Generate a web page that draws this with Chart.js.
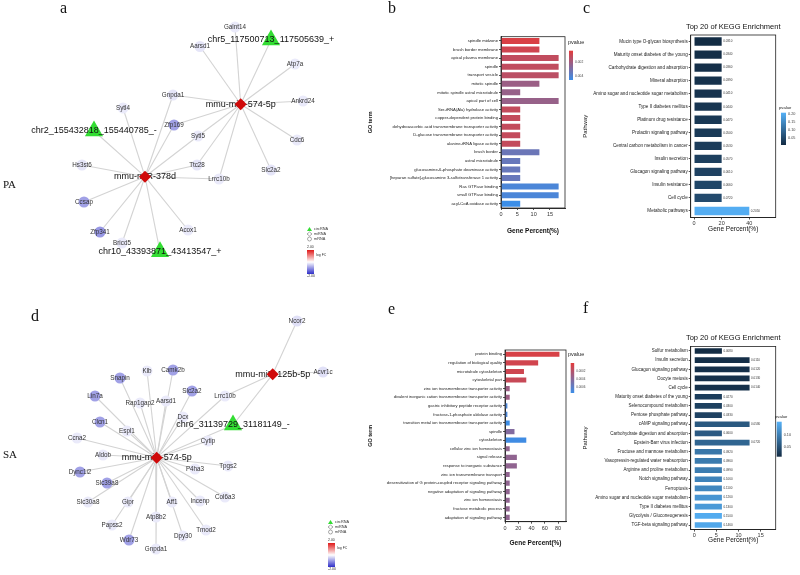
<!DOCTYPE html>
<html lang="en">
<head>
  <meta charset="UTF-8">
  <script src="https://cdn.jsdelivr.net/npm/chart.js"></script>
  <title>ceRNA networks and enrichment</title>
  <style>
    body{margin:0; width:800px; height:575px; background:#fff; position:relative; overflow:hidden;}
    canvas{position:absolute; display:block;}
    .tag{position:absolute; font-family:"Liberation Serif", serif; color:#111; line-height:1; z-index:5;}
  </style>
</head>
<body>
  <canvas id="netA" width="370" height="290" style="left:0;top:0"></canvas>
  <canvas id="netD" width="370" height="280" style="left:0;top:295px"></canvas>
  <canvas id="goB" width="230" height="205" style="left:362px;top:30px"></canvas>
  <canvas id="keggC" width="222" height="218" style="left:578px;top:15px"></canvas>
  <canvas id="goE" width="230" height="207" style="left:362px;top:340px"></canvas>
  <canvas id="keggF" width="222" height="219" style="left:578px;top:325px"></canvas>

  <div class="tag" style="left:60px;top:0;font-size:16px">a</div>
  <div class="tag" style="left:388px;top:0;font-size:16px">b</div>
  <div class="tag" style="left:583px;top:0;font-size:16px">c</div>
  <div class="tag" style="left:31px;top:308px;font-size:16px">d</div>
  <div class="tag" style="left:388px;top:301px;font-size:16px">e</div>
  <div class="tag" style="left:583px;top:300px;font-size:16px">f</div>
  <div class="tag" style="left:3px;top:179px;font-size:11px">PA</div>
  <div class="tag" style="left:3px;top:449px;font-size:11px">SA</div>

<script>
const FONT = '"Liberation Sans", Arial, sans-serif';

// ---------- panel a : network (layout position + log FC) ----------
const aNames = ['mmu-miR-574-5p','mmu-miR-378d','chr5_117500713_117505639_+','chr2_155432818_155440785_-','chr10_43393871_43413547_+',
  'Galnt14','Aarsd1','Atp7a','Ankrd24','Cdc6','Slc2a2','Gnpda1','Sytl4','Zfp169','Sytl5','Ttc28','Lrrc10b','Hs3st6','Ccsap','Zfp341','Acox1','Bricd5'];
const aKind = ['mi','mi','circ','circ','circ','m','m','m','m','m','m','m','m','m','m','m','m','m','m','m','m','m'];
const aX = [240.7,145,271,94,160,235,200,295,303,297,271,173,123,174,198,197,219,82,84,100,188,122];
const aY = [104.3,176.7,40,131,251.7,27,46.5,64,101,140,170,95,108,125,136,165,179,165,202,232,230,243];
const aFC = [2,2,0,0,0,-0.2,-0.25,-0.2,-0.2,-0.2,-0.25,-0.25,-0.2,-0.9,-0.2,-0.25,-0.2,-0.25,-0.9,-1,-0.2,-0.2];
const aEdges = [
  ['mmu-miR-574-5p',['Galnt14','chr5_117500713_117505639_+','Aarsd1','Atp7a','Ankrd24','Cdc6','Slc2a2','Lrrc10b','Ttc28','Sytl5','Zfp169','Gnpda1']],
  ['mmu-miR-378d',['chr2_155432818_155440785_-','Sytl4','Gnpda1','Zfp169','Sytl5','Ttc28','Lrrc10b','Hs3st6','Ccsap','Zfp341','Bricd5','chr10_43393871_43413547_+','Acox1']]
];

// ---------- panel d : network ----------
const dNames = ['mmu-miR-574-5p','mmu-miR-125b-5p','chr6_31139729_31181149_-','Klb','Camk2b','Snapin','Slc2a2','Lin7a','Rap1gap2','Aarsd1',
  'Lrrc10b','Dcx','Clcn1','Espl1','Cytip','Ccna2','Aldob','P4ha3','Tpgs2','Dync1i2','Slc39a8','Slc30a8','Gipr','Aff1','Incenp','Col6a3',
  'Atp8b2','Papss2','Dpy30','Tmod2','Wdr73','Gnpda1','Ncor2','Acvr1c'];
const dKind = ['mi','mi','circ'].concat(Array(31).fill('m'));
const dX = [156.7,272.7,233,147,173,120,192,95,140,166,225,183,100,127,208,77,103,195,228,80,107,88,128,172,200,225,156,112,183,206,129,156,297,323];
const dY = [457.7,374.3,425,371,370,378,391,396,403,401,396,417,422,431,441,438,455,469,466,472,483,502,502,502,501,497,517,525,536,530,540,549,321,372];
const dFC = [2,2,0,-0.2,-0.9,-0.9,-0.9,-0.9,-0.2,-0.2,-0.2,-0.2,-0.9,-0.2,-0.2,-0.2,-0.2,-0.2,-0.2,-0.9,-0.9,-0.2,-0.2,-0.2,-0.2,-0.2,-0.2,-0.2,-0.2,-0.2,-0.9,-0.2,-0.3,-0.3];
const dEdges = [
  ['mmu-miR-574-5p',['chr6_31139729_31181149_-','Klb','Camk2b','Snapin','Slc2a2','Lin7a','Rap1gap2','Aarsd1','Lrrc10b','Dcx','Clcn1','Espl1','Cytip',
    'Ccna2','Aldob','P4ha3','Tpgs2','Dync1i2','Slc39a8','Slc30a8','Gipr','Aff1','Incenp','Col6a3','Atp8b2','Papss2','Dpy30','Tmod2','Wdr73','Gnpda1']],
  ['mmu-miR-125b-5p',['Ncor2','Acvr1c','Lrrc10b','chr6_31139729_31181149_-']]
];

// ---------- panel b : GO (PA) ----------
const bTerms = ['spindle midzone','brush border membrane','apical plasma membrane','spindle','transport vesicle','mitotic spindle',
  'mitotic spindle astral microtubule','apical part of cell','Ser-tRNA(Ala) hydrolase activity','copper-dependent protein binding',
  'dehydroascorbic acid transmembrane transporter activity','D-glucose transmembrane transporter activity','alanine-tRNA ligase activity',
  'brush border','astral microtubule','glucosamine-6-phosphate deaminase activity','[heparan sulfate]-glucosamine 3-sulfotransferase 1 activity',
  'Ras GTPase binding','small GTPase binding','acyl-CoA oxidase activity'];
const bPercent = [11.76,11.76,17.65,17.65,17.65,11.76,5.88,17.65,5.88,5.88,5.88,5.88,5.88,11.76,5.88,5.88,5.88,17.65,17.65,5.88];
const bPval = [0.00065,0.0009,0.00124,0.00124,0.0014,0.0022,0.0023,0.0023,0.0012,0.0012,0.0012,0.0012,0.0012,0.0034,0.0035,0.0035,0.0035,0.0042,0.0042,0.0046];
const bTicks = [0,5,10,15];

// ---------- panel c : KEGG (PA) ----------
const cPaths = ['Mucin type O-glycan biosynthesis','Maturity onset diabetes of the young','Carbohydrate digestion and absorption','Mineral absorption',
  'Amino sugar and nucleotide sugar metabolism','Type II diabetes mellitus','Platinum drug resistance','Prolactin signaling pathway',
  'Central carbon metabolism in cancer','Insulin secretion','Glucagon signaling pathway','Insulin resistance','Cell cycle','Metabolic pathways'];
const cPercent = [20,20,20,20,20,20,20,20,20,20,20,20,20,40];
const cPval = [0.031,0.034,0.036,0.039,0.041,0.044,0.047,0.050,0.053,0.057,0.061,0.066,0.072,0.205];
const cTicks = [0,20,40];

// ---------- panel e : GO (SA) ----------
const eTerms = ['protein binding','regulation of biological quality','microtubule cytoskeleton','cytoskeletal part',
  'zinc ion transmembrane transporter activity','divalent inorganic cation transmembrane transporter activity',
  'gastric inhibitory peptide receptor activity','fructose-1-phosphate aldolase activity',
  'transition metal ion transmembrane transporter activity','spindle','cytoskeleton','cellular zinc ion homeostasis','signal release',
  'response to inorganic substance','zinc ion transmembrane transport','desensitization of G protein-coupled receptor signaling pathway',
  'negative adaptation of signaling pathway','zinc ion homeostasis','fructose metabolic process','adaptation of signaling pathway'];
const ePercent = [82.1,50,28.6,32.1,7.1,7.1,3.6,3.6,7.1,14.3,32.1,7.1,17.9,17.9,7.1,7.1,7.1,7.1,7.1,7.1];
const ePval = [0.00007,0.0001,0.00011,0.00014,0.00033,0.00033,0.00068,0.00068,0.00074,0.00044,0.00073,0.00038,0.00038,0.00038,0.00038,0.00038,0.00038,0.00038,0.00038,0.00038];
const eTicks = [0,20,40,60,80];

// ---------- panel f : KEGG (SA) ----------
const fPaths = ['Sulfur metabolism','Insulin secretion','Glucagon signaling pathway','Oocyte meiosis','Cell cycle',
  'Maturity onset diabetes of the young','Selenocompound metabolism','Pentose phosphate pathway','cAMP signaling pathway',
  'Carbohydrate digestion and absorption','Epstein-Barr virus infection','Fructose and mannose metabolism',
  'Vasopressin-regulated water reabsorption','Arginine and proline metabolism','Notch signaling pathway','Ferroptosis',
  'Amino sugar and nucleotide sugar metabolism','Type II diabetes mellitus','Glycolysis / Gluconeogenesis','TGF-beta signaling pathway'];
const fPercent = [6.25,12.5,12.5,12.5,12.5,6.25,6.25,6.25,12.5,6.25,12.5,6.25,6.25,6.25,6.25,6.25,6.25,6.25,6.25,6.25];
const fPval = [0.008,0.011,0.012,0.013,0.014,0.027,0.030,0.033,0.058,0.060,0.072,0.092,0.096,0.099,0.106,0.110,0.126,0.130,0.150,0.146];
const fTicks = [0,5,10,15];

// colour helpers
const GO_LO = '#e33b3b', GO_HI = '#3b8ee8';
const KG_LO = '#132b43', KG_HI = '#56b1f7';
function mix(c1, c2, t){
  const a = parseInt(c1.slice(1),16), b = parseInt(c2.slice(1),16);
  const ch = s => Math.round(((a>>s)&255)*(1-t) + ((b>>s)&255)*t);
  return 'rgb(' + ch(16) + ',' + ch(8) + ',' + ch(0) + ')';
}
function grad(p, lo, hi, c1, c2){
  return mix(c1, c2, Math.min(1, Math.max(0, (p-lo)/(hi-lo))));
}
function fcColor(v){
  return v >= 0 ? mix('#ffffff', '#d00a0a', Math.min(1, v/2)) : mix('#ffffff', '#2e2ec8', Math.min(1, -v/2));
}

// network labels + legend
const netDecor = {
  id:'netDecor',
  afterDatasetDraw(chart, args, o){
    if (args.index !== 1) return;
    const ctx = chart.ctx, sx = chart.scales.x, sy = chart.scales.y;
    ctx.save();
    ctx.textAlign = 'center'; ctx.textBaseline = 'middle';
    o.names.forEach((n, i) => {
      const big = o.kinds[i] !== 'm';
      ctx.font = (big ? '9px ' : '6.3px ') + FONT;
      ctx.fillStyle = big ? '#111' : '#333';
      ctx.fillText(n, sx.getPixelForValue(o.xs[i]), sy.getPixelForValue(o.ys[i]));
    });
    ctx.restore();
  },
  afterDraw(chart, args, o){
    const ctx = chart.ctx;
    const x = chart.scales.x.getPixelForValue(o.legend[0]);
    const y = chart.scales.y.getPixelForValue(o.legend[1]);
    ctx.save();
    ctx.font = '3.8px ' + FONT; ctx.fillStyle = '#333'; ctx.textBaseline = 'middle'; ctx.textAlign = 'left';
    // circRNA
    ctx.fillStyle = '#33dd33';
    ctx.beginPath(); ctx.moveTo(x+2.5, y+1); ctx.lineTo(x+5, y+5); ctx.lineTo(x, y+5); ctx.closePath(); ctx.fill();
    ctx.fillStyle = '#333'; ctx.fillText('circRNA', x+7, y+3);
    // miRNA
    ctx.strokeStyle = '#555'; ctx.lineWidth = 0.5;
    ctx.beginPath(); ctx.moveTo(x+2.5, y+6); ctx.lineTo(x+5, y+8); ctx.lineTo(x+2.5, y+10); ctx.lineTo(x, y+8); ctx.closePath(); ctx.stroke();
    ctx.fillText('miRNA', x+7, y+8);
    // mRNA
    ctx.beginPath(); ctx.arc(x+2.5, y+13, 2, 0, Math.PI*2); ctx.stroke();
    ctx.fillText('mRNA', x+7, y+13);
    // log FC bar
    ctx.font = '3.5px ' + FONT;
    ctx.fillText('2.00', x, y+21.5);
    const g = ctx.createLinearGradient(0, y+24, 0, y+48);
    g.addColorStop(0, '#e01818'); g.addColorStop(0.5, '#ffffff'); g.addColorStop(1, '#2e2ec8');
    ctx.fillStyle = g; ctx.fillRect(x, y+24, 7, 24);
    ctx.fillStyle = '#333';
    ctx.fillText('log FC', x+9, y+29);
    ctx.fillText('-2.00', x, y+50.5);
    ctx.restore();
  }
};

function network(id, names, kinds, xs, ys, fcs, hubs, xr, yr, legend){
  const mi = [], other = [];
  names.forEach((n, i) => (kinds[i] === 'mi' ? mi : other).push(i));
  const edges = [];
  hubs.forEach(([hub, targets]) => {
    const h = names.indexOf(hub);
    targets.forEach(t => {
      const j = names.indexOf(t);
      edges.push({data:[{x:xs[h], y:ys[h]}, {x:xs[j], y:ys[j]}], showLine:true,
        borderColor:'#d3d3d3', borderWidth:1.1, pointRadius:0});
    });
  });
  new Chart(document.getElementById(id), {
    type:'scatter',
    data:{datasets:[
      {data: mi.map(i => ({x:xs[i], y:ys[i]})), pointStyle:'rectRot', pointRadius:6,
        pointBackgroundColor: mi.map(i => fcColor(fcs[i])), pointBorderWidth:0},
      {data: other.map(i => ({x:xs[i], y:ys[i]})),
        pointStyle: other.map(i => kinds[i] === 'circ' ? 'triangle' : 'circle'),
        pointRadius: other.map(i => kinds[i] === 'circ' ? 10.5 : 5.5),
        pointBackgroundColor: other.map(i => kinds[i] === 'circ' ? '#33dd33' : fcColor(fcs[i])),
        pointBorderWidth:0}
    ].concat(edges)},
    options:{
      responsive:false, animation:false, events:[],
      layout:{padding:0, autoPadding:false},
      scales:{
        x:{type:'linear', display:false, min:xr[0], max:xr[1]},
        y:{type:'linear', display:false, min:yr[0], max:yr[1], reverse:true}
      },
      plugins:{legend:{display:false}, tooltip:{enabled:false},
        netDecor:{names:names, kinds:kinds, xs:xs, ys:ys, legend:legend}}
    },
    plugins:[netDecor]
  });
}

// frame, title, value text and colour bar of the bar panels
const barDecor = {
  id:'barDecor',
  afterDraw(chart, args, o){
    const ctx = chart.ctx, a = chart.chartArea;
    ctx.save();
    ctx.strokeStyle = '#222'; ctx.lineWidth = 0.8;
    ctx.strokeRect(a.left, a.top, a.right - a.left, a.bottom - a.top);
    if (o.title){
      ctx.font = '7.5px ' + FONT; ctx.fillStyle = '#111'; ctx.textAlign = 'center'; ctx.textBaseline = 'middle';
      ctx.fillText(o.title, (a.left + a.right)/2, a.top - 8);
    }
    if (o.values){
      ctx.font = '3px ' + FONT; ctx.fillStyle = '#333'; ctx.textAlign = 'left'; ctx.textBaseline = 'middle';
      chart.getDatasetMeta(0).data.forEach((bar, i) => ctx.fillText(o.values[i], bar.x + 1.5, bar.y));
    }
    const cb = o.cb;
    const g = ctx.createLinearGradient(0, cb.y, 0, cb.y + cb.h);
    g.addColorStop(0, cb.stops[0]); g.addColorStop(1, cb.stops[1]);
    ctx.fillStyle = g; ctx.fillRect(cb.x, cb.y, cb.w, cb.h);
    ctx.fillStyle = '#222'; ctx.textAlign = 'left'; ctx.textBaseline = 'middle';
    ctx.font = cb.tf + 'px ' + FONT; ctx.fillText('pvalue', cb.tx, cb.ty);
    ctx.font = cb.lf + 'px ' + FONT; ctx.fillStyle = '#444';
    cb.labels.forEach(l => ctx.fillText(l[0], cb.x + cb.w + 2, l[1]));
    ctx.restore();
  }
};

function barPanel(id, cats, vals, cols, o){
  new Chart(document.getElementById(id), {
    type:'bar',
    data:{labels:cats, datasets:[{data:vals, backgroundColor:cols, borderWidth:0,
      barPercentage:o.bar, categoryPercentage:1}]},
    options:{
      indexAxis:'y', responsive:false, animation:false, events:[],
      layout:{padding:{top:o.top, right:o.right, left:0, bottom:0}},
      plugins:{legend:{display:false}, tooltip:{enabled:false},
        barDecor:{title:o.title, values:o.values, cb:o.cb}},
      scales:{
        x:{min:o.min, max:o.max,
          afterBuildTicks: s => { s.ticks = o.ticks.map(v => ({value:v})); },
          afterFit: s => { s.height = o.xh; },
          grid:{drawOnChartArea:false, tickLength:2, color:'#555'}, border:{color:'#333'},
          ticks:{font:{size:5.5, family:FONT}, color:'#333', padding:1, maxRotation:0},
          title:{display:true, text:'Gene Percent(%)', color:'#111', padding:{top:0, bottom:0},
            font:{size:6.5, weight:o.bold ? 'bold' : 'normal', family:FONT}}},
        y:{afterFit: s => { s.width = o.yw; },
          grid:{drawOnChartArea:false, offset:false, tickLength:2, color:'#555'}, border:{color:'#333'},
          ticks:{font:{size:o.lf, family:FONT}, color:'#222', padding:1, autoSkip:false},
          title:{display:true, text:o.yt, color:'#111', padding:{top:o.ytp, bottom:0},
            font:{size:o.ytf, weight:o.bold ? 'bold' : 'normal', family:FONT}}}
      }
    },
    plugins:[barDecor]
  });
}

network('netA', aNames, aKind, aX, aY, aFC, aEdges, [0,370], [0,290], [307,226]);
network('netD', dNames, dKind, dX, dY, dFC, dEdges, [0,370], [295,575], [328,519]);

barPanel('goB', bTerms, bPercent, bPval.map(p => grad(p, 0.0004, 0.0046, GO_LO, GO_HI)), {
  yw:139, top:6.7, right:27, xh:27, min:0, max:19.6, ticks:bTicks, lf:4.2, yt:'GO term', ytf:5.5, ytp:4.7, bold:true, bar:0.7,
  cb:{x:207, y:20.7, w:4, h:29.3, stops:[GO_LO, GO_HI], tx:206, ty:12.7, tf:5.5, lf:3.3, labels:[['0.002',32],['0.004',46]]}
});
barPanel('goE', eTerms, ePercent, ePval.map(p => grad(p, 0.00002, 0.00075, GO_LO, GO_HI)), {
  yw:143, top:10, right:26, xh:25.3, min:0, max:92, ticks:eTicks, lf:4.1, yt:'GO term', ytf:5.5, ytp:4.7, bold:true, bar:0.6,
  cb:{x:208.7, y:23, w:3.5, h:30, stops:[GO_LO, GO_HI], tx:206, ty:14, tf:5.5, lf:3, labels:[['0.0002',30.7],['0.0004',39],['0.0006',47]]}
});
barPanel('keggC', cPaths, cPercent, cPval.map(p => grad(p, 0.03, 0.21, KG_LO, KG_HI)), {
  yw:112.7, top:20, right:24.3, xh:15.5, min:-2.4, max:59.1, ticks:cTicks, lf:4.6, yt:'Pathway', ytf:6, ytp:3.4, bold:false, bar:0.64,
  title:'Top 20 of KEGG Enrichment', values:cPval.map(p => p.toFixed(4)),
  cb:{x:203, y:97.7, w:5, h:32.3, stops:[KG_HI, KG_LO], tx:201, ty:93, tf:4.2, lf:3.8, labels:[['0.20',99.3],['0.15',106.7],['0.10',115],['0.05',123.3]]}
});
barPanel('keggF', fPaths, fPercent, fPval.map(p => grad(p, 0.007, 0.157, KG_LO, KG_HI)), {
  yw:112.7, top:21.4, right:24.3, xh:14.4, min:-0.8, max:18.4, ticks:fTicks, lf:4.5, yt:'Pathway', ytf:6, ytp:3.4, bold:false, bar:0.62,
  title:'Top 20 of KEGG Enrichment', values:fPval.map(p => p.toFixed(4)),
  cb:{x:198.7, y:96.7, w:5, h:35, stops:[KG_HI, KG_LO], tx:197, ty:92, tf:4.2, lf:3.8, labels:[['0.10',110],['0.05',121.7]]}
});
</script>
</body>
</html>
